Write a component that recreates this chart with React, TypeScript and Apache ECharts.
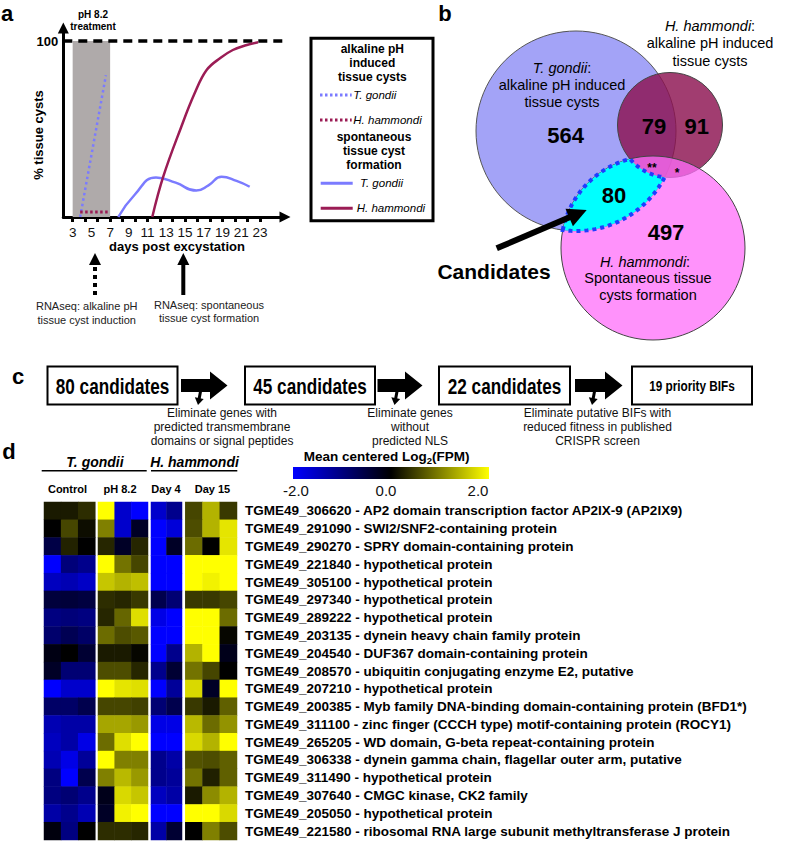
import React, { useEffect, useRef } from "react";
import * as echarts from "echarts";

// ---------- DATA ----------
const dayLabels = [3, 5, 7, 9, 11, 13, 15, 17, 19, 21, 23];
const dayTicks = [3, 4.33, 5.67, 7, 8.33, 9.67, 11, 12.33, 13.67, 15, 16.33, 17.67, 19, 20.33, 21.67, 23];
const pctLabels = [100];
const phTreatment = [3, 7];
const alkTgondii = [[3.8, 0], [6.55, 80.5]];
const alkHham = [[3.8, 2.8], [7, 2.8]];
const sponTgondii = [[7.87, 0], [9.6, 12.5], [11.9, 22.5], [14.0, 19.5], [16.2, 15], [17.5, 18], [18.9, 22.9], [20.5, 20.5], [21.9, 17.2]];
const sponHham = [[11.5, 0], [12.67, 22.9], [14.6, 51.3], [16.0, 70], [17.3, 83.5], [18.8, 90.5], [20.1, 94.9], [21.5, 97.6], [22.8, 99.3]];

const vennCounts = [564, 79, 91, 80, 497];
const funnelSteps = ["80 candidates", "45 candidates", "22 candidates", "19 priority BIFs"];
const filterNotes = [
  "Eliminate genes with\npredicted transmembrane\ndomains or signal peptides",
  "Eliminate genes\nwithout\npredicted NLS",
  "Eliminate putative BIFs with\nreduced fitness in published\nCRISPR screen",
];

const groupNames = ["Control", "pH 8.2", "Day 4", "Day 15"];
const geneIds = [
  "TGME49_306620", "TGME49_291090", "TGME49_290270", "TGME49_221840", "TGME49_305100",
  "TGME49_297340", "TGME49_289222", "TGME49_203135", "TGME49_204540", "TGME49_208570",
  "TGME49_207210", "TGME49_200385", "TGME49_311100", "TGME49_265205", "TGME49_306338",
  "TGME49_311490", "TGME49_307640", "TGME49_205050", "TGME49_221580",
];
const geneNames = [
  "AP2 domain transcription factor AP2IX-9 (AP2IX9)",
  "SWI2/SNF2-containing protein",
  "SPRY domain-containing protein",
  "hypothetical protein",
  "hypothetical protein",
  "hypothetical protein",
  "hypothetical protein",
  "dynein heavy chain family protein",
  "DUF367 domain-containing protein",
  "ubiquitin conjugating enzyme E2, putative",
  "hypothetical protein",
  "Myb family DNA-binding domain-containing protein (BFD1*)",
  "zinc finger (CCCH type) motif-containing protein (ROCY1)",
  "WD domain, G-beta repeat-containing protein",
  "dynein gamma chain, flagellar outer arm, putative",
  "hypothetical protein",
  "CMGC kinase, CK2 family",
  "hypothetical protein",
  "ribosomal RNA large subunit methyltransferase J protein",
];
const controlVals = [
  [0.2, 0.2, 0.35], [0.0, 0.55, 0.1], [-0.55, 0.27, 0.0], [-2.0, -0.95, -1.1], [-1.5, -1.4, -1.55],
  [-0.47, -0.45, -0.5], [-1.0, -0.95, -1.0], [-0.85, -0.65, -0.8], [-0.15, 0.0, -0.4], [-0.3, -0.9, -0.9],
  [-2.0, -1.6, -1.6], [-0.8, -0.8, -0.6], [-1.4, -1.3, -1.3], [-1.5, -1.3, -1.8], [-1.4, -1.8, -1.2],
  [-1.0, -2.0, -0.6], [-1.0, -0.9, -1.1], [-1.3, -1.1, -1.4], [-0.1, -1.0, 0.0],
];
const ph82Vals = [
  [2.0, -1.6, -2.0], [1.0, -1.6, -0.3], [0.3, -0.3, 0.3], [2.0, 0.9, 0.55], [1.55, 1.4, 1.5],
  [0.35, 0.3, 0.45], [0.3, 0.8, 1.75], [0.85, 0.6, 0.7], [0.2, 0.2, 0.05], [0.6, 0.6, 0.3],
  [2.0, 1.8, 1.75], [0.55, 0.55, 0.5], [1.3, 1.3, 1.2], [0.85, 1.75, 2.0], [2.0, 1.0, 1.0],
  [1.0, 1.45, 1.2], [-0.2, 1.7, 1.55], [-0.3, 1.9, 2.0], [0.35, 0.35, 0.3],
];
const day4Vals = [
  [-1.6, -1.1], [-2.0, -1.7], [-2.0, -0.3], [-2.0, -2.0], [-2.0, -2.0],
  [-0.6, -0.9], [-1.8, -2.0], [-2.0, -2.0], [-2.0, -1.1], [-1.1, -0.4],
  [-2.0, -1.2], [-0.9, -0.6], [-1.8, -1.8], [-2.0, -2.0], [-1.1, -1.3],
  [-1.1, -1.2], [-1.5, -1.3], [-2.0, -2.0], [-1.3, -0.4],
];
const day15Vals = [
  [0.55, 1.4, 0.45], [0.6, 1.4, 1.8], [0.85, 0.0, 1.8], [2.0, 2.0, 2.0], [2.0, 1.9, 2.0],
  [0.45, 0.45, 0.55], [2.0, 2.0, 0.85], [2.0, 2.0, 0.05], [1.4, 2.0, -0.2], [0.9, 0.55, 0.0],
  [1.7, -0.3, 2.0], [0.45, 0.2, 0.75], [1.45, 0.85, 1.15], [1.7, 1.4, 2.0], [0.65, 0.6, 0.75],
  [0.9, 0.25, 0.75], [0.2, 1.1, 1.4], [2.0, 2.0, 1.7], [0.0, 1.0, 0.6],
];
const scaleTicks = ["-2.0", "0.0", "2.0"];

// ---------- STYLE ----------
const FF = "'Liberation Sans', Arial, Helvetica, sans-serif";
const BLUE = "#7b7bff";
const CRIM = "#9b1c55";

type TO = { size?: number; bold?: boolean; italic?: boolean; color?: string; align?: string; lh?: number; sx?: number; rich?: any };
const txt = (x: number, y: number, text: string, o: TO = {}) => ({
  type: "text",
  x,
  y,
  z: 20,
  scaleX: o.sx ?? 1,
  style: {
    text,
    fontFamily: FF,
    fontSize: o.size ?? 12,
    fontWeight: o.bold ? "bold" : "normal",
    fontStyle: o.italic ? "italic" : "normal",
    fill: o.color ?? "#000",
    align: o.align ?? "center",
    verticalAlign: "middle",
    lineHeight: o.lh,
    rich: o.rich,
  },
});
const line = (x1: number, y1: number, x2: number, y2: number, color: string, w: number, dash?: number[]) => ({
  type: "line",
  z: 15,
  shape: { x1, y1, x2, y2 },
  style: { stroke: color, lineWidth: w, lineDash: dash },
});
const head = (x1: number, y1: number, x2: number, y2: number, len: number, w: number) => {
  const dx = x2 - x1, dy = y2 - y1, L = Math.hypot(dx, dy);
  const ux = dx / L, uy = dy / L;
  const bx = x2 - ux * len, by = y2 - uy * len;
  return [[x2, y2], [bx - (uy * w) / 2, by + (ux * w) / 2], [bx + (uy * w) / 2, by - (ux * w) / 2]];
};
const arrow = (x1: number, y1: number, x2: number, y2: number, w: number, len: number, hw: number, dash?: number[]) => {
  const dx = x2 - x1, dy = y2 - y1, L = Math.hypot(dx, dy);
  const ex = x2 - (dx / L) * (len - 1), ey = y2 - (dy / L) * (len - 1);
  return [
    line(x1, y1, ex, ey, "#000", w, dash),
    { type: "polygon", z: 15, shape: { points: head(x1, y1, x2, y2, len, hw) }, style: { fill: "#000" } },
  ];
};

// geometry helpers for venn
type C = [number, number, number];
const inter = (c1: C, c2: C) => {
  const [x1, y1, r1] = c1, [x2, y2, r2] = c2;
  const dx = x2 - x1, dy = y2 - y1, d = Math.hypot(dx, dy);
  const a = (r1 * r1 - r2 * r2 + d * d) / (2 * d);
  const h = Math.sqrt(Math.max(0, r1 * r1 - a * a));
  const bx = x1 + (a * dx) / d, by = y1 + (a * dy) / d;
  return [[bx - (h * dy) / d, by + (h * dx) / d], [bx + (h * dy) / d, by - (h * dx) / d]];
};
const arcPts = (c: C, p0: number[], p1: number[], dir: number, n = 30) => {
  let a0 = Math.atan2(p0[1] - c[1], p0[0] - c[0]);
  let a1 = Math.atan2(p1[1] - c[1], p1[0] - c[0]);
  if (dir > 0) { while (a1 < a0) a1 += Math.PI * 2; } else { while (a1 > a0) a1 -= Math.PI * 2; }
  const pts: number[][] = [];
  for (let i = 0; i <= n; i++) {
    const a = a0 + ((a1 - a0) * i) / n;
    pts.push([c[0] + c[2] * Math.cos(a), c[1] + c[2] * Math.sin(a)]);
  }
  return pts;
};

function buildOption() {
  const g: any[] = [];

  // ---- panel letters ----
  g.push(txt(7, 13, "a", { size: 22, bold: true }));
  g.push(txt(445, 13, "b", { size: 22, bold: true }));
  g.push(txt(18, 376, "c", { size: 22, bold: true }));
  g.push(txt(9, 451, "d", { size: 22, bold: true }));

  // ---- panel a texts ----
  g.push(txt(93, 20.5, "pH 8.2\ntreatment", { size: 10, bold: true, lh: 12 }));
  g.push(txt(38, 135, "% tissue cysts", { size: 13, bold: true }));
  (g[g.length - 1] as any).rotation = Math.PI / 2;
  g.push(txt(177, 246.7, "days post excystation", { size: 13, bold: true }));
  // legend box
  g.push({ type: "rect", z: 15, shape: { x: 311, y: 38.3, width: 122, height: 182.4 }, style: { fill: "none", stroke: "#000", lineWidth: 3 } });
  g.push(txt(372.3, 63.3, "alkaline pH\ninduced\ntissue cysts", { size: 12, bold: true, lh: 14 }));
  g.push(line(320, 95, 351.7, 95, BLUE, 3, [2.5, 2.5]));
  g.push(txt(353.3, 95, "T. gondii", { size: 11.5, italic: true, align: "left" }));
  g.push(line(320, 120, 351.7, 120, CRIM, 3, [2.5, 2.5]));
  g.push(txt(353.3, 120, "H. hammondi", { size: 11.5, italic: true, align: "left" }));
  g.push(txt(374, 151, "spontaneous\ntissue cyst\nformation", { size: 12, bold: true, lh: 14 }));
  g.push(line(320.7, 183.3, 352.7, 183.3, BLUE, 3));
  g.push(txt(360, 183.3, "T. gondii", { size: 11.5, italic: true, align: "left" }));
  g.push(line(320.7, 208.3, 352.7, 208.3, CRIM, 3));
  g.push(txt(356.7, 208.3, "H. hammondi", { size: 11.5, italic: true, align: "left" }));
  // RNAseq arrows
  g.push(...arrow(95, 295, 95, 253, 4, 12, 12, [4, 4]));
  g.push(...arrow(183.3, 295, 183.3, 253, 4, 12, 12));
  g.push(txt(86.7, 313, "RNAseq: alkaline pH\ntissue cyst induction", { size: 11, color: "#222", lh: 14 }));
  g.push(txt(209, 311.5, "RNAseq: spontaneous\ntissue cyst formation", { size: 11, color: "#222", lh: 13.5 }));

  // ---- panel b: venn ----
  const C1: C = [576, 131, 100];
  const C2: C = [670, 125, 52.5];
  const C3: C = [653, 248, 92];
  g.push({ type: "circle", z: 10, shape: { cx: C1[0], cy: C1[1], r: C1[2] }, style: { fill: "#a3a3f7", stroke: "#555", lineWidth: 1 } });
  g.push({ type: "circle", z: 10, shape: { cx: C2[0], cy: C2[1], r: C2[2] }, style: { fill: "rgba(140,18,80,0.82)", stroke: "#444", lineWidth: 1 } });
  g.push({ type: "circle", z: 10, shape: { cx: C3[0], cy: C3[1], r: C3[2] }, style: { fill: "rgba(255,110,250,0.75)", stroke: "#444", lineWidth: 1 } });
  const i13 = inter(C1, C3);
  const P1 = i13[0][0] < i13[1][0] ? i13[0] : i13[1];
  const i23 = inter(C2, C3);
  const Q = i23[0][0] < i23[1][0] ? i23[0] : i23[1];
  const i12 = inter(C1, C2);
  const R = i12[0][1] > i12[1][1] ? i12[0] : i12[1];
  const lens = [...arcPts(C3, P1, Q, 1), ...arcPts(C2, Q, R, -1), ...arcPts(C1, R, P1, 1)];
  g.push({ type: "polygon", z: 11, shape: { points: lens }, style: { fill: "#00ffff", stroke: "#1f3dff", lineWidth: 4, lineDash: [4, 4] } });
  const ital = (s: number) => ({ i: { fontStyle: "italic", fontSize: s, fontFamily: FF, fill: "#000" }, r: { fontSize: s, fontFamily: FF, fill: "#000" } });
  g.push(txt(562, 68.3, "{i|T. gondii}{r|:}", { rich: ital(14.5) }));
  g.push(txt(562, 93.3, "alkaline pH induced\ntissue cysts", { size: 14.5, lh: 16.7 }));
  g.push(txt(710, 25.7, "{i|H. hammondi}{r|:}", { rich: ital(14.5) }));
  g.push(txt(710, 52, "alkaline pH induced\ntissue cysts", { size: 14.5, lh: 17.4 }));
  g.push(txt(645, 261.7, "{i|H. hammondi}{r|:}", { rich: ital(14.5) }));
  g.push(txt(648, 286.6, "Spontaneous tissue\ncysts formation", { size: 14.5, lh: 16.7 }));
  g.push(txt(565.7, 135, String(vennCounts[0]), { size: 22, bold: true }));
  g.push(txt(654, 126, String(vennCounts[1]), { size: 22, bold: true }));
  g.push(txt(696.7, 126, String(vennCounts[2]), { size: 22, bold: true }));
  g.push(txt(614, 195, String(vennCounts[3]), { size: 22, bold: true }));
  g.push(txt(666, 232.7, String(vennCounts[4]), { size: 22, bold: true }));
  g.push(txt(652, 168, "**", { size: 12, bold: true }));
  g.push(txt(677, 173, "*", { size: 12, bold: true }));
  g.push(txt(494, 271.7, "Candidates", { size: 21, bold: true }));
  g.push(...arrow(496.7, 248.3, 586.7, 210, 6, 19, 19));

  // ---- panel c ----
  const boxes = [
    { x: 47.5, w: 130 },
    { x: 245, w: 130 },
    { x: 439, w: 131 },
    { x: 632, w: 120 },
  ];
  const boxTop = 366.5, boxH = 38;
  const cy = boxTop + boxH / 2;
  boxes.forEach((b, i) => {
    g.push({ type: "rect", z: 15, shape: { x: b.x, y: boxTop, width: b.w, height: boxH }, style: { fill: "#fff", stroke: "#000", lineWidth: 2 } });
    g.push(txt(b.x + b.w / 2, cy + 0.5, funnelSteps[i], i < 3 ? { size: 22, bold: true, sx: 0.78 } : { size: 15.5, bold: true, sx: 0.76 }));
  });
  const blocks = [
    { x0: 181, xh: 210, xt: 227.5 },
    { x0: 377.5, xh: 405, xt: 422.5 },
    { x0: 575, xh: 605, xt: 622.5 },
  ];
  blocks.forEach((a) => {
    g.push({
      type: "polygon", z: 15,
      shape: { points: [[a.x0, cy - 6.5], [a.xh, cy - 6.5], [a.xh, cy - 14], [a.xt, cy], [a.xh, cy + 14], [a.xh, cy + 6.5], [a.x0, cy + 6.5]] },
      style: { fill: "#000" },
    });
    const bx = a.x0 + 18;
    g.push(...arrow(bx + 1.5, cy + 6, bx - 1, cy + 19.5, 3, 7, 9));
  });
  g.push(txt(222, 427, filterNotes[0], { size: 12, color: "#111", lh: 14 }));
  g.push(txt(410, 427, filterNotes[1], { size: 12, color: "#111", lh: 14 }));
  g.push(txt(597.5, 427, filterNotes[2], { size: 12, color: "#111", lh: 14 }));

  // ---- panel d ----
  g.push(txt(95, 461.7, "T. gondii", { size: 14, bold: true, italic: true }));
  g.push(line(41.7, 470.7, 146.7, 470.7, "#000", 1.5));
  g.push(txt(194.5, 461.7, "H. hammondi", { size: 14, bold: true, italic: true }));
  g.push(line(151, 470.7, 237.3, 470.7, "#000", 1.5));
  const hdrX = [67.5, 120, 166, 212.5];
  groupNames.forEach((n, i) => g.push(txt(hdrX[i], 489.3, n, { size: 11, bold: true })));
  g.push(txt(386.7, 456.5, "{a|Mean centered Log}{s|2}{a|(FPM)}", {
    rich: {
      a: { fontSize: 13.5, fontWeight: "bold", fontFamily: FF, fill: "#000", lineHeight: 18, verticalAlign: "middle" },
      s: { fontSize: 9.5, fontWeight: "bold", fontFamily: FF, fill: "#000", lineHeight: 18, verticalAlign: "bottom" },
    },
  }));
  g.push({
    type: "rect", z: 15, shape: { x: 293, y: 467, width: 196, height: 12 },
    style: {
      fill: { type: "linear", x: 0, y: 0, x2: 1, y2: 0, colorStops: [{ offset: 0, color: "#0000ff" }, { offset: 0.5, color: "#000000" }, { offset: 1, color: "#ffff00" }] },
    },
  });
  const stX = [296, 386, 478];
  scaleTicks.forEach((s, i) => g.push(txt(stX[i], 490.5, s, { size: 15, color: "#111" })));

  // ---- heatmap grids ----
  const heat = [
    { vals: controlVals, left: 44, width: 51.3 },
    { vals: ph82Vals, left: 98, width: 50 },
    { vals: day4Vals, left: 151, width: 31 },
    { vals: day15Vals, left: 185.3, width: 51.7 },
  ];
  const grids: any[] = [{ left: 63.3, top: 28, width: 221.7, height: 189 }];
  const xAxes: any[] = [
    {
      type: "value", gridIndex: 0, min: 2, max: 25.67,
      axisLine: { show: true, onZero: false, symbol: ["none", "triangle"], symbolSize: [11, 11], lineStyle: { color: "#000", width: 3 } },
      axisTick: { show: true, customValues: dayTicks, length: 5, lineStyle: { color: "#000", width: 3 } },
      axisLabel: { customValues: dayLabels, fontFamily: FF, fontSize: 13.5, color: "#111", margin: 8 },
      splitLine: { show: false },
    },
  ];
  const yAxes: any[] = [
    {
      type: "value", gridIndex: 0, min: 0, max: 107.4,
      axisLine: { show: true, onZero: false, symbol: ["none", "triangle"], symbolSize: [11, 11], lineStyle: { color: "#000", width: 3 } },
      axisTick: { show: false },
      axisLabel: { customValues: pctLabels, fontFamily: FF, fontSize: 13, fontWeight: "bold", color: "#000", margin: 5 },
      splitLine: { show: false },
    },
  ];
  const series: any[] = [
    {
      type: "line", xAxisIndex: 0, yAxisIndex: 0, clip: false, symbol: "none", silent: true,
      data: [[2, 100], [26.31, 100]],
      lineStyle: { color: "#000", width: 3.5, type: [9, 6] },
      markArea: { silent: true, itemStyle: { color: "#afaaaa" }, data: [[{ xAxis: phTreatment[0], yAxis: 0 }, { xAxis: phTreatment[1], yAxis: 100 }]] },
      z: 3,
    },
    { type: "line", xAxisIndex: 0, yAxisIndex: 0, symbol: "none", data: alkTgondii, lineStyle: { color: BLUE, width: 2.5, type: [2.5, 3] }, z: 4 },
    { type: "line", xAxisIndex: 0, yAxisIndex: 0, symbol: "none", data: alkHham, lineStyle: { color: CRIM, width: 3, type: [2.5, 2.5] }, z: 4 },
    { type: "line", xAxisIndex: 0, yAxisIndex: 0, symbol: "none", smooth: 0.5, data: sponTgondii, lineStyle: { color: BLUE, width: 2.5 }, z: 4 },
    { type: "line", xAxisIndex: 0, yAxisIndex: 0, symbol: "none", smooth: 0.4, data: sponHham, lineStyle: { color: CRIM, width: 2.5 }, z: 4 },
  ];
  const heatIdx: number[] = [];
  heat.forEach((h, k) => {
    const gi = k + 1;
    grids.push({ left: h.left, top: 502, width: h.width, height: 338 });
    const nc = h.vals[0].length;
    xAxes.push({ type: "category", gridIndex: gi, data: Array.from({ length: nc }, (_, i) => String(i)), show: false });
    yAxes.push(
      k === 3
        ? {
            type: "category", gridIndex: gi, data: geneIds, inverse: true, position: "right",
            axisLine: { show: false }, axisTick: { show: false }, splitLine: { show: false },
            axisLabel: {
              show: true, interval: 0, margin: 8, align: "left", fontFamily: FF, fontSize: 13.5, fontWeight: "bold", color: "#000",
              formatter: (v: string, i: number) => `${v} - ${geneNames[i]}`,
            },
          }
        : { type: "category", gridIndex: gi, data: geneIds, inverse: true, show: false }
    );
    const data: number[][] = [];
    h.vals.forEach((row, r) => row.forEach((v, c) => data.push([c, r, v])));
    heatIdx.push(series.length);
    series.push({ type: "heatmap", xAxisIndex: gi, yAxisIndex: gi, data, itemStyle: { borderWidth: 0 }, emphasis: { disabled: true }, silent: true });
  });

  return {
    animation: false,
    backgroundColor: "#fff",
    textStyle: { fontFamily: FF },
    grid: grids,
    xAxis: xAxes,
    yAxis: yAxes,
    visualMap: { type: "continuous", show: false, min: -2, max: 2, seriesIndex: heatIdx, inRange: { color: ["#0000ff", "#000000", "#ffff00"] } },
    series,
    graphic: { elements: g },
  };
}

export default function App() {
  const ref = useRef<HTMLDivElement>(null);
  useEffect(() => {
    if (!ref.current) return;
    const chart = echarts.init(ref.current, null, { renderer: "svg" });
    chart.setOption(buildOption() as any);
    return () => chart.dispose();
  }, []);
  return <div ref={ref} style={{ position: "absolute", left: 0, top: 0, width: 800, height: 842, background: "#fff" }} />;
}
